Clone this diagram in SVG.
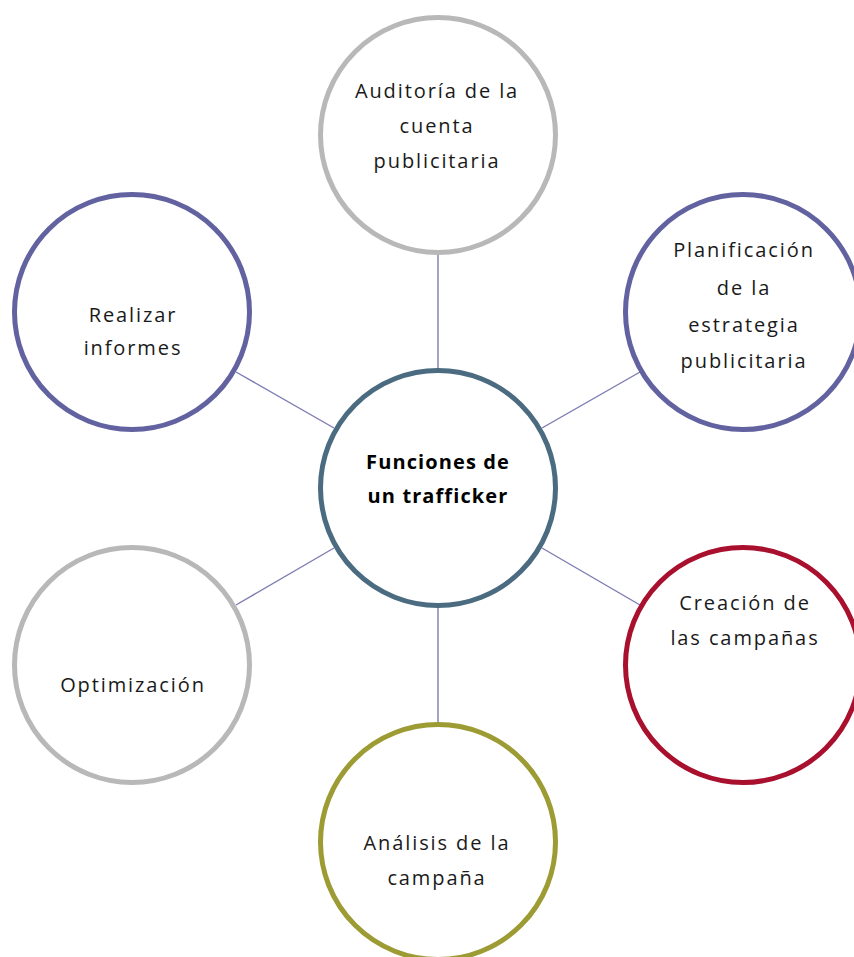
<svg xmlns="http://www.w3.org/2000/svg" width="854" height="957" viewBox="0 0 854 957">
<style>
.c{fill:#ffffff;stroke-width:5}
.gray{stroke:#b8b8b8}
.purple{stroke:#6262a0}
.center{stroke:#4b6b80}
.red{stroke:#a8102e}
.olive{stroke:#9c9b34}
.t{font-family:"Open Sans","DejaVu Sans",sans-serif;font-size:20px;fill:#1a1a1a;text-anchor:middle;letter-spacing:1.9px}
.b{font-weight:bold;letter-spacing:1.1px;fill:#000}
.conn line{stroke:#7c7cb2;stroke-width:1.4}
</style>
<rect width="854" height="957" fill="#ffffff"/>
<g id="connectors" class="conn">
<line x1="438" y1="368" x2="438" y2="255"/>
<line x1="542" y1="428" x2="640" y2="372"/>
<line x1="542" y1="548" x2="640" y2="605"/>
<line x1="438" y1="608" x2="438" y2="722"/>
<line x1="334" y1="548" x2="236" y2="605"/>
<line x1="334" y1="428" x2="236" y2="372"/>
</g>
<g id="node-center">
<circle class="c center" cx="438" cy="488" r="117.5"/>
<text class="t b" x="438" y="469">Funciones de</text>
<text class="t b" x="438" y="503">un trafficker</text>
</g>
<g id="node-auditoria">
<circle class="c gray" cx="438" cy="135" r="117.5"/>
<text class="t" x="437" y="98">Auditoría de la</text>
<text class="t" x="437" y="133">cuenta</text>
<text class="t" x="437" y="168">publicitaria</text>
</g>
<g id="node-planificacion">
<circle class="c purple" cx="743" cy="312" r="117.5"/>
<text class="t" x="744" y="257">Planificación</text>
<text class="t" x="744" y="295">de la</text>
<text class="t" x="744" y="332">estrategia</text>
<text class="t" x="744" y="368">publicitaria</text>
</g>
<g id="node-creacion">
<circle class="c red" cx="743" cy="665" r="117.5"/>
<text class="t" x="745" y="610">Creación de</text>
<text class="t" x="745" y="645">las campañas</text>
</g>
<g id="node-analisis">
<circle class="c olive" cx="438" cy="842" r="117.5"/>
<text class="t" x="437" y="850">Análisis de la</text>
<text class="t" x="437" y="885">campaña</text>
</g>
<g id="node-optimizacion">
<circle class="c gray" cx="132" cy="665" r="117.5"/>
<text class="t" x="133" y="692">Optimización</text>
</g>
<g id="node-informes">
<circle class="c purple" cx="132" cy="312" r="117.5"/>
<text class="t" x="133" y="322">Realizar</text>
<text class="t" x="133" y="355">informes</text>
</g>
</svg>
